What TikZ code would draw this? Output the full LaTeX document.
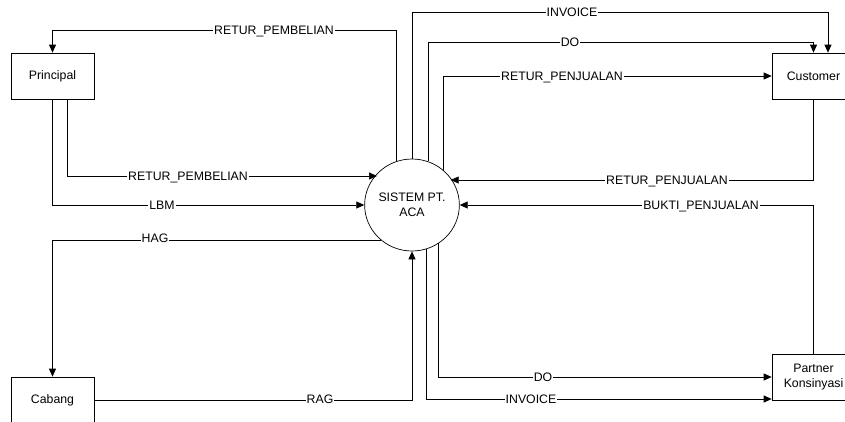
\documentclass[tikz,border=0pt]{standalone}
\usepackage{fontspec}
\setmainfont{Liberation Sans}
\usetikzlibrary{arrows.meta,shapes.geometric,calc}
\begin{document}
\begin{tikzpicture}[x=1pt,y=-1pt,
  every node/.style={font=\fontsize{12.3}{15.5}\selectfont},
  ent/.style={draw, rectangle, line width=0.7pt, minimum width=83pt, minimum height=46pt, inner sep=0pt, align=center},
  proc/.style={draw, ellipse, line width=0.7pt, minimum width=84pt, minimum height=92pt, inner sep=0pt, align=center},
  flow/.style={draw, line width=0.7pt, -{Triangle[length=8pt,width=7pt]}},
  lbl/.style={fill=white, inner xsep=1pt, inner ysep=0pt, text height=9pt, text depth=0pt}]
\useasboundingbox (0,0) rectangle (845,421);
\clip (0,0) rectangle (845,421);
\fill[white] (0,0) rectangle (845,421);

\node[ent] (prin) at (52.5,76) {Principal};
\node[ent] (cust) at (813.5,76) {Customer};
\node[ent] (cab) at (52.5,400) {Cabang};
\node[ent] (part) at (813.5,377) {Partner\\Konsinyasi};
\node[proc] (sys) at (412,205) {SISTEM PT.\\ACA};

\coordinate (t1) at (52.5,30);
\coordinate (s2) at (67,99);
\coordinate (t2) at (67,176);
\coordinate (t6) at (828,12);
\coordinate (t7) at (813.5,42);
\coordinate (t9) at (813.5,180);
\coordinate (t12) at (426,399);

\draw[flow] (sys.110.6) |- (t1) -- (prin.north);
\draw[flow] (s2) -- (t2) -- (t2 -| sys.138.3);
\draw[flow] (prin.south) |- (sys.west);
\draw[flow] (sys.228.4) -| (cab.north);
\draw[flow] (cab.east) -| (sys.south);
\draw[flow] (sys.north) |- (t6) -- (t6 |- cust.north);
\draw[flow] (sys.70.8) |- (t7) -- (cust.north);
\draw[flow] (sys.48.9) |- (cust.west);
\draw[flow] (cust.south) -- (t9) -- (t9 -| sys.35.3);
\draw[flow] (part.north) |- (sys.east);
\draw[flow] (sys.-55.9) |- (part.west);
\draw[flow] (sys.-72.1) |- (part.west |- t12);

\node[lbl] (l1) at (274,30) {RETUR\_PEMBELIAN};
\node[lbl] (l2) at (188,176) {RETUR\_PEMBELIAN};
\node[lbl] (l3) at (162,205) {LBM};
\node[lbl] (l4) at (155,238) {HAG};
\node[lbl] (l5) at (320,399) {RAG};
\node[lbl] (l6) at (572,12) {INVOICE};
\node[lbl] (l7) at (570,42) {DO};
\node[lbl] (l8) at (562,76) {RETUR\_PENJUALAN};
\node[lbl] (l9) at (667,180) {RETUR\_PENJUALAN};
\node[lbl] (l10) at (701,205) {BUKTI\_PENJUALAN};
\node[lbl] (l11) at (543,377) {DO};
\node[lbl] (l12) at (531,399) {INVOICE};
\end{tikzpicture}
\end{document}
